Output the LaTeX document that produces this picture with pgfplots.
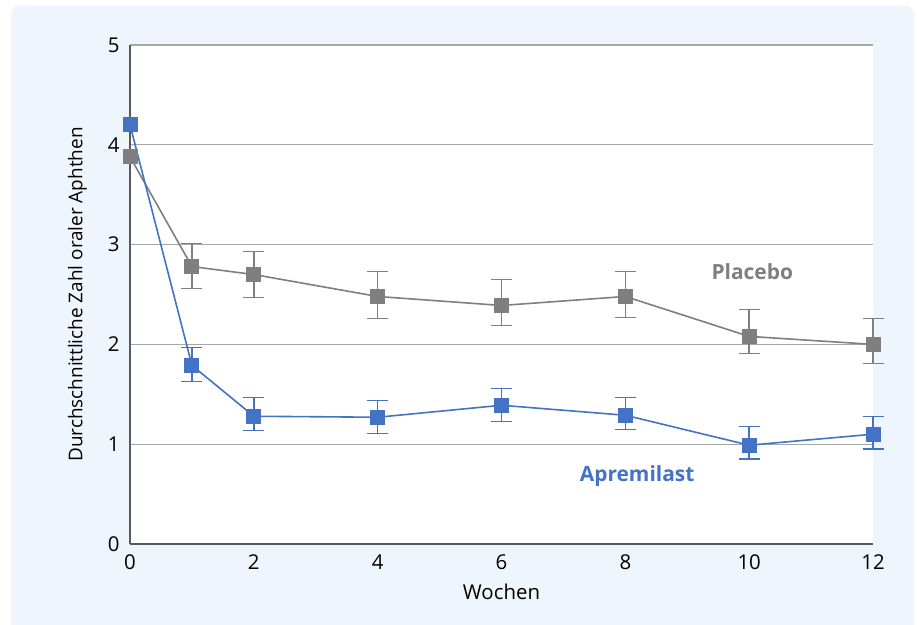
\documentclass[border=0pt]{standalone}
\usepackage{pgfplots}
\pgfplotsset{compat=1.18}
\usepackage{fontspec}
\setmainfont{Open Sans}
\definecolor{panel}{HTML}{EEF5FD}
\definecolor{apblue}{HTML}{4472C4}
\definecolor{plgray}{HTML}{7F7F7F}
\definecolor{gridgray}{HTML}{A6A6A6}
\definecolor{axisgray}{HTML}{595959}
\begin{document}
\begin{tikzpicture}[x=1bp,y=1bp]
\path[use as bounding box] (0,0) rectangle (917,625);
\fill[white] (0,0) rectangle (917,625);
\fill[panel, rounded corners=8bp] (11,-20) rectangle (914,619);
\begin{axis}[
  at={(130bp,81bp)}, anchor=south west,
  scale only axis, width=743bp, height=499bp,
  xmin=0, xmax=12, ymin=0, ymax=5,
  axis x line*=bottom, axis y line*=left,
  axis line style={-, axisgray, line width=1.3bp},
  axis background/.style={fill=white},
  ymajorgrids, grid style={gridgray, line width=1.2bp},
  xtick={0,2,...,12}, ytick={0,1,...,5},
  major tick length=0pt,
  tick label style={font=\fontsize{20.5}{22}\selectfont, text=black},
  /pgf/number format/assume math mode=true,
  xticklabel style={yshift=-7bp},
  yticklabel style={xshift=-7bp},
  xlabel={Wochen}, ylabel={Durchschnittliche Zahl oraler Aphthen},
  xlabel style={font=\fontsize{20.5}{22}\selectfont, yshift=-8bp},
  ylabel style={font=\fontsize{19}{21}\selectfont, yshift=14bp},
  clip=false,
]
% Placebo error bars
\addplot[draw=none, mark=none, forget plot,
  error bars/.cd, y dir=both, y explicit,
  error bar style={plgray, line width=1.4bp},
  error mark options={rotate=90, mark size=10.5bp, plgray, line width=1.4bp}]
coordinates {
 (1,2.78) += (0,0.23) -= (0,0.22)
 (2,2.70) += (0,0.23) -= (0,0.23)
 (4,2.48) += (0,0.25) -= (0,0.22)
 (6,2.39) += (0,0.26) -= (0,0.20)
 (8,2.48) += (0,0.25) -= (0,0.21)
 (10,2.08) += (0,0.27) -= (0,0.17)
 (12,2.00) += (0,0.26) -= (0,0.19)
};
\addplot[plgray, line width=1.6bp, mark=square*, mark size=7bp, mark options={solid, fill=plgray, draw=plgray, line width=0pt}]
coordinates {(0,3.88) (1,2.78) (2,2.70) (4,2.48) (6,2.39) (8,2.48) (10,2.08) (12,2.00)};
% Apremilast error bars
\addplot[draw=none, mark=none, forget plot,
  error bars/.cd, y dir=both, y explicit,
  error bar style={apblue, line width=1.4bp},
  error mark options={rotate=90, mark size=10.5bp, apblue, line width=1.4bp}]
coordinates {
 (1,1.79) += (0,0.18) -= (0,0.16)
 (2,1.28) += (0,0.19) -= (0,0.14)
 (4,1.27) += (0,0.17) -= (0,0.16)
 (6,1.39) += (0,0.17) -= (0,0.16)
 (8,1.29) += (0,0.18) -= (0,0.14)
 (10,0.99) += (0,0.19) -= (0,0.14)
 (12,1.10) += (0,0.18) -= (0,0.15)
};
\addplot[apblue, line width=1.6bp, mark=square*, mark size=7bp, mark options={solid, fill=apblue, draw=apblue, line width=0pt}]
coordinates {(0,4.20) (1,1.79) (2,1.28) (4,1.27) (6,1.39) (8,1.29) (10,0.99) (12,1.10)};
\node[font=\fontsize{21}{22}\selectfont\bfseries, text=plgray] at (axis cs:10.05,2.73) {Placebo};
\node[font=\fontsize{21}{22}\selectfont\bfseries, text=apblue] at (axis cs:8.19,0.68) {Apremilast};
\end{axis}
\end{tikzpicture}
\end{document}
